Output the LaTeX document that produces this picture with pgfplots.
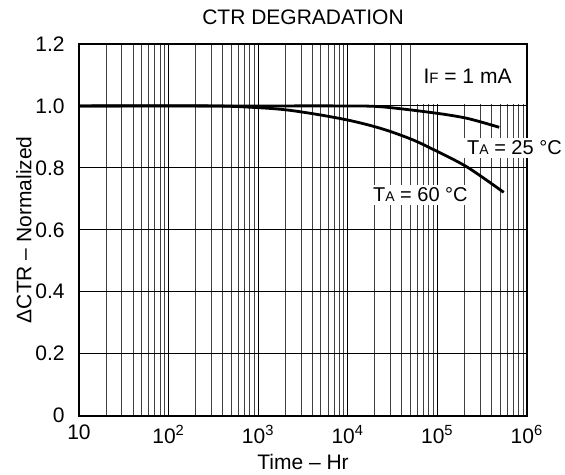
\documentclass[border=0pt]{standalone}
\usepackage{pgfplots}
\pgfplotsset{compat=1.18}
\usepackage{fontspec}
\setmainfont{Liberation Sans}

\begin{document}
\fontsize{10.5}{12.6}\selectfont
\begin{tikzpicture}
\useasboundingbox (-39.5pt,-29.6pt) rectangle (243pt,207.8pt);
\begin{axis}[
    xmode = log,
    scale only axis,
    width = 224pt,
    height = 185.8pt,
    xmin = 10, xmax = 1e6,
    ymin = 0, ymax = 1.2,
    clip = false,
    xtick = {10,100,1000,10000,100000,1000000},
    xticklabels = {10,10\textsuperscript{2},10\textsuperscript{3},10\textsuperscript{4},10\textsuperscript{5},10\textsuperscript{6}},
    ytick = {0,0.2,0.4,0.6,0.8,1.0,1.2},
    yticklabels = {0,0.2,0.4,0.6,0.8,1.0,1.2},
    xmajorgrids, xminorgrids, ymajorgrids,
    major grid style = {black, line width=0.5pt},
    minor grid style = {black!75, line width=0.4pt},
    major tick length = 0pt,
    minor tick length = 0pt,
    axis line style = {line width=1pt},
    yticklabel style = {xshift=-3.5pt},
    xticklabel style = {yshift=-1pt},
    every axis title shift = 0pt,
    title = {CTR DEGRADATION},
    title style = {
        at={(axis description cs:0.5,1.0727)},
        anchor=center,
    },
    xlabel = {Time -- Hr},
    xlabel style = {
        at={(axis description cs:0.5,-0.1238)},
        anchor=center,
    },
    ylabel = {ΔCTR -- Normalized},
    ylabel style = {
        at={(axis description cs:-0.1228,0.5)},
        anchor=center,
    },
]

% white panel behind the test condition
\fill[white] ([xshift=0.4pt]axis cs:5e4,1.007) rectangle ([xshift=-0.5pt,yshift=-0.5pt]axis cs:1e6,1.2);
\node at (axis cs:2.17e5,1.096) {I{\fontsize{7.5}{9}\selectfont F} = 1 mA};

% T_A = 25 C
\addplot[black, line width=1.4pt, smooth, tension=0.5] coordinates {
    (10, 1.0)
    (1000, 1.0)
    (8000, 1.0)
    (22909, 0.9975)
    (89125, 0.978)
    (213796, 0.960)
    (489779, 0.931)
};

% T_A = 60 C
\addplot[black, line width=1.4pt, smooth, tension=0.5] coordinates {
    (10, 1.0)
    (300, 1.0)
    (1047, 0.994)
    (2089, 0.987)
    (4467, 0.973)
    (9772, 0.955)
    (17783, 0.937)
    (29512, 0.918)
    (53703, 0.890)
    (89125, 0.860)
    (213796, 0.803)
    (549541, 0.721)
};

\node[fill=white, inner sep=1.5pt] at (axis cs:7.24e5,0.864) {\fontsize{10}{12}\selectfont T{\fontsize{7}{9}\selectfont A} = 25 °C};
\node[fill=white, inner sep=1.5pt] at (axis cs:6.46e4,0.7125) {\fontsize{10}{12}\selectfont T{\fontsize{7}{9}\selectfont A} = 60 °C};

\end{axis}
\end{tikzpicture}
\end{document}
